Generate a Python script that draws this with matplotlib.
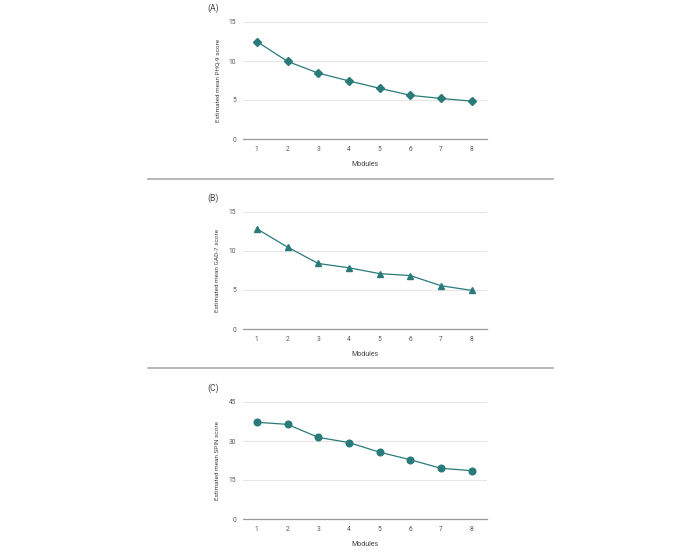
import matplotlib
matplotlib.use("Agg")
import matplotlib.pyplot as plt
from matplotlib.lines import Line2D

plt.rcParams['font.family'] = ['Roboto', 'DejaVu Sans']

modules = [1, 2, 3, 4, 5, 6, 7, 8]
phq9 = [12.5, 9.95, 8.45, 7.45, 6.5, 5.6, 5.2, 4.85]
gad7 = [12.85, 10.5, 8.4, 7.85, 7.1, 6.85, 5.55, 4.95]
spin = [37.2, 36.4, 31.4, 29.4, 25.7, 22.8, 19.5, 18.6]

panels = [
    ("(A)", "Estimated mean PHQ-9 score", phq9, "D", 3.8, [0, 5, 10, 15]),
    ("(B)", "Estimated mean GAD-7 score", gad7, "^", 4.2, [0, 5, 10, 15]),
    ("(C)", "Estimated mean SPIN score", spin, "o", 4.8, [0, 15, 30, 45]),
]

W, H = 700, 553
fig = plt.figure(figsize=(7, 5.53), dpi=100)
color = "#2a7a7a"

tops = [22, 212, 402]
for (lab, ylab, vals, mk, ms, yt), top in zip(panels, tops):
    bottom = top + 117
    ax = fig.add_axes([243 / W, 1 - bottom / H, 244 / W, 117 / H])
    ax.plot(modules, vals, color=color, marker=mk, markersize=ms, linewidth=0.9)
    ax.set_xlim(0.55, 8.5)
    ax.set_ylim(yt[0], yt[-1])
    ax.set_yticks(yt)
    ax.set_xticks(modules)
    ax.grid(axis='y', color='#e6e6e6', linewidth=0.8)
    ax.set_axisbelow(True)
    for s in ['top', 'right', 'left']:
        ax.spines[s].set_visible(False)
    ax.spines['bottom'].set_color('#9a9a9a')
    ax.spines['bottom'].set_linewidth(0.9)
    ax.tick_params(length=0, labelsize=4.8, colors='#555555', pad=5)
    ax.set_xlabel("Modules", fontsize=5, color='#444444', labelpad=6)
    ax.set_ylabel(ylab, fontsize=4.6, color='#444444', labelpad=6)
    fig.text(213 / W, 1 - (top - 14) / H, lab, fontsize=6.2, color='#444444',
             ha='center', va='center')

for y in [179, 368]:
    fig.add_artist(Line2D([148 / W, 553 / W], [1 - y / H, 1 - y / H],
                          color='#aaaaaa', linewidth=1.2, transform=fig.transFigure))

fig.savefig("out.png", dpi=100, facecolor='white')
